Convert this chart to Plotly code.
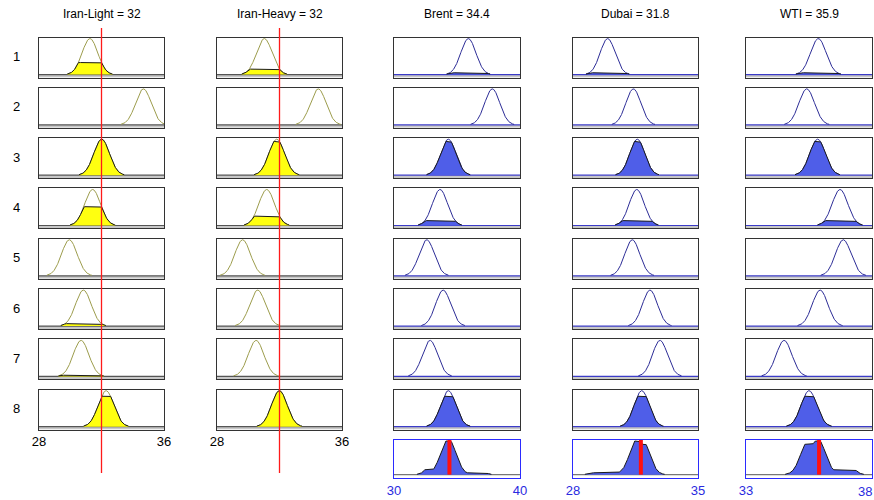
import numpy as np
import plotly.graph_objects as go

# ---------------- data ----------------
rule_labels = ["1", "2", "3", "4", "5", "6", "7", "8"]

input_names = ["Iran-Light", "Iran-Heavy"]
input_values = [32, 32]
input_range = [28, 36]
input_ticks = ["28", "36"]
iran_light_centers = [31.26, 34.68, 32.01, 31.43, 29.94, 30.84, 30.69, 32.29]
iran_heavy_centers = [31.03, 34.48, 31.82, 31.18, 29.64, 30.60, 30.50, 31.99]
input_sigmas = [0.5, 0.5]

output_names = ["Brent", "Dubai", "WTI"]
output_values = [34.4, 31.8, 35.9]
output_ranges = [[30, 40], [28, 35], [33, 38]]
output_ticks = [["30", "40"], ["28", "35"], ["33", "38"]]
brent_centers = [35.90, 37.80, 34.31, 33.65, 32.60, 33.90, 32.86, 34.31]
dubai_centers = [29.94, 31.38, 31.60, 31.57, 31.32, 32.31, 32.87, 31.85]
wti_centers = [35.87, 35.41, 35.84, 36.73, 36.86, 35.94, 34.51, 35.50]
output_sigmas = [0.6, 0.42, 0.31]

input_centers = [iran_light_centers, iran_heavy_centers]
output_centers = [brent_centers, dubai_centers, wti_centers]

# ---------------- layout geometry (pixels) ----------------
W, H = 874, 500
col_px = [(39, 164), (217, 342), (394, 520), (573, 698), (746, 872)]
row_top0, row_pitch, row_h = 37.5, 50.3, 40
agg_top, agg_bot = 440, 478

OLIVE = "#9c9c4c"
NAVY = "#2c2c96"
YELLOW = "#ffff10"
BLUE = "#4f5ee8"
EDGE = "#1a1a1a"
FRAME = "#333333"
TICKBLUE = "#2a2ae0"
FONT = "Liberation Sans, Arial"


def gauss(x, c, s):
    return np.exp(-((x - c) ** 2) / (2 * s * s))


def xdom(c):
    a, b = col_px[c]
    return [a / W, b / W]


def ydom(top, bot):
    return [1 - bot / H, 1 - top / H]


fig = go.Figure()
layout = {}
shapes = []
annotations = []
ax_n = [0]


def new_axes(c, top, bot, rng, yrng, frame=FRAME, ticks=None, tickvals=None,
             tickcolor="black"):
    ax_n[0] += 1
    n = ax_n[0]
    sx = "" if n == 1 else str(n)
    xa = dict(domain=xdom(c), range=rng, showgrid=False, zeroline=False,
              showline=True, mirror=True, linecolor=frame, linewidth=1,
              ticks="", showticklabels=False, anchor="y" + sx, fixedrange=True,
              automargin=False)
    if ticks is not None:
        xa.update(showticklabels=True,
                  tickvals=tickvals if tickvals is not None else rng,
                  ticktext=ticks,
                  tickfont=dict(family=FONT, size=13, color=tickcolor))
    ya = dict(domain=ydom(top, bot), range=yrng, showgrid=False, zeroline=False,
              showline=True, mirror=True, linecolor=frame, linewidth=1,
              ticks="", showticklabels=False, anchor="x" + sx, fixedrange=True,
              automargin=False)
    layout["xaxis" + sx] = xa
    layout["yaxis" + sx] = ya
    return "x" + sx, "y" + sx


def strip(xr, yr, y0, linecolor):
    shapes.append(dict(type="rect", xref=xr + " domain", yref=yr, x0=0, x1=1,
                       y0=y0, y1=0, fillcolor="#c8c8c8", line=dict(width=0),
                       layer="below"))
    shapes.append(dict(type="line", xref=xr + " domain", yref=yr, x0=0, x1=1,
                       y0=0, y1=0, line=dict(color=linecolor, width=1.2),
                       layer="below"))


YR = [-0.08, 1.03]
first_x_of_col = {}

# ---- input columns ----
mu_in = []
for c in range(2):
    lo, hi = input_range
    xs = np.linspace(lo, hi, 500)
    levels = []
    for r in range(8):
        top = row_top0 + r * row_pitch
        xr, yr = new_axes(c, top, top + row_h, input_range, YR,
                          ticks=input_ticks if r == 7 else None)
        if r == 0:
            first_x_of_col[c] = xr
        cen, sig = input_centers[c][r], input_sigmas[c]
        mf = gauss(xs, cen, sig)
        mask = mf > 0.015
        lvl = float(gauss(input_values[c], cen, sig))
        levels.append(lvl)
        strip(xr, yr, YR[0], "#555555")
        fig.add_trace(go.Scatter(x=xs[mask], y=mf[mask], mode="lines",
                                 line=dict(color=OLIVE, width=1),
                                 xaxis=xr, yaxis=yr, hoverinfo="skip"))
        if lvl > 0.02:
            fy = np.minimum(mf, lvl)
            fig.add_trace(go.Scatter(x=xs[mask], y=fy[mask], mode="lines",
                                     fill="tozeroy", fillcolor=YELLOW,
                                     line=dict(color=EDGE, width=1),
                                     xaxis=xr, yaxis=yr, hoverinfo="skip"))
    mu_in.append(levels)

firing = [mu_in[0][r] * mu_in[1][r] for r in range(8)]

# ---- output columns ----
for k in range(3):
    c = k + 2
    lo, hi = output_ranges[k]
    xs = np.linspace(lo, hi, 600)
    agg = np.zeros_like(xs)
    for r in range(8):
        top = row_top0 + r * row_pitch
        xr, yr = new_axes(c, top, top + row_h, output_ranges[k], YR)
        cen, sig = output_centers[k][r], output_sigmas[k]
        mf = gauss(xs, cen, sig)
        mask = mf > 0.015
        strip(xr, yr, YR[0], "#3c3cc8")
        fig.add_trace(go.Scatter(x=xs[mask], y=mf[mask], mode="lines",
                                 line=dict(color=NAVY, width=1),
                                 xaxis=xr, yaxis=yr, hoverinfo="skip"))
        lvl = firing[r]
        clipped = np.minimum(mf, lvl)
        agg = np.maximum(agg, clipped)
        if lvl > 0.02:
            fig.add_trace(go.Scatter(x=xs[mask], y=clipped[mask], mode="lines",
                                     fill="tozeroy", fillcolor=BLUE,
                                     line=dict(color=EDGE, width=1),
                                     xaxis=xr, yaxis=yr, hoverinfo="skip"))
    # aggregate panel
    m = float(agg.max())
    last = (k == 2)
    xr, yr = new_axes(c, agg_top, agg_bot, output_ranges[k], [-0.1 * m, 1.03 * m],
                      frame="#2b2bff",
                      ticks=output_ticks[k][:1] if last else output_ticks[k],
                      tickvals=output_ranges[k][:1] if last else None,
                      tickcolor=TICKBLUE)
    shapes.append(dict(type="line", xref=xr + " domain", yref=yr, x0=0, x1=1,
                       y0=0, y1=0, line=dict(color="#777777", width=1.2),
                       layer="below"))
    amask = agg > 0.01 * m
    fig.add_trace(go.Scatter(x=xs[amask], y=agg[amask], mode="lines",
                             fill="tozeroy", fillcolor=BLUE,
                             line=dict(color=EDGE, width=1),
                             xaxis=xr, yaxis=yr, hoverinfo="skip"))
    fig.add_trace(go.Scatter(x=[output_values[k], output_values[k]], y=[0, 1.03 * m],
                             mode="lines", line=dict(color="#ff1010", width=4),
                             xaxis=xr, yaxis=yr, hoverinfo="skip"))
    if last:
        # right-end label of the last axis sits at the page edge: keep it inside
        annotations.append(dict(x=1, xref="paper", y=1 - 491 / H, yref="paper",
                                text=output_ticks[k][1], showarrow=False,
                                xanchor="right", yanchor="middle",
                                font=dict(family=FONT, size=13, color=TICKBLUE)))

# red input lines through all rule rows
for c in range(2):
    shapes.append(dict(type="line", xref=first_x_of_col[c], yref="paper",
                       x0=input_values[c], x1=input_values[c],
                       y0=1 - 473 / H, y1=1 - 28 / H,
                       line=dict(color="#ff1a1a", width=1.3), layer="above"))

# titles
titles = [f"{input_names[0]} = {input_values[0]}", f"{input_names[1]} = {input_values[1]}"] + \
         [f"{output_names[k]} = {output_values[k]}" for k in range(3)]
for c, t in enumerate(titles):
    a, b = col_px[c]
    annotations.append(dict(x=(a + b) / 2 / W, y=1 - 14 / H, xref="paper", yref="paper",
                            text=t, showarrow=False, xanchor="center", yanchor="middle",
                            font=dict(family=FONT, size=12, color="black")))
# rule numbers
for r, lab in enumerate(rule_labels):
    cy = row_top0 + r * row_pitch + row_h / 2 - 1
    annotations.append(dict(x=16 / W, y=1 - cy / H, xref="paper", yref="paper",
                            text=lab, showarrow=False, xanchor="center", yanchor="middle",
                            font=dict(family=FONT, size=13, color="black")))

fig.update_layout(**layout)
fig.update_layout(width=W, height=H, margin=dict(l=0, r=0, t=0, b=0),
                  paper_bgcolor="white", plot_bgcolor="white",
                  showlegend=False, shapes=shapes, annotations=annotations)

fig.write_html("out.html")
